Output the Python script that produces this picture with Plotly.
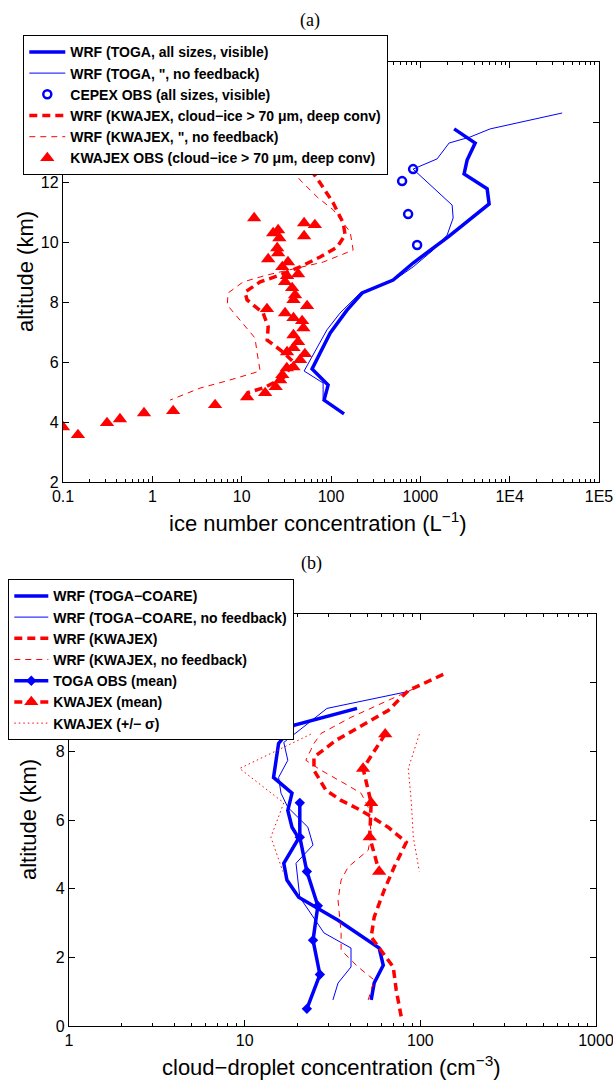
import plotly.graph_objects as go

# ---------------- Panel (a) data ----------------
toga_wrf_alt = [13.77, 13.3, 12.73, 12.27, 11.77, 11.27, 10.17, 9.3, 8.73, 8.3, 7.73, 6.97, 6.3, 5.77, 5.23, 4.73, 4.27]
toga_wrf_n = [2390, 4110, 3340, 3090, 5600, 5890, 2050, 830, 496, 223, 151, 98, 75.5, 61.4, 92.8, 83.7, 140]

toga_nofb_alt = [14.3, 13.77, 13.5, 13.3, 12.77, 12.43, 11.23, 10.8, 10.23, 9.73, 9.17, 8.8, 8.3, 7.63, 7.07, 6.5, 5.7, 5.3, 4.77, 4.3]
toga_nofb_n = [38700, 6050, 3610, 2100, 1540, 830, 2270, 2330, 1995, 1390, 830, 550, 212, 126, 90, 70, 50, 81.6, 81.6, 137]

cepex_alt = [12.43, 12.03, 10.93, 9.9]
cepex_n = [830, 625, 730, 921]

kwa_wrf_alt = [13.5, 12.67, 11.97, 11.3, 10.63, 10.23, 9.83, 9.5, 9.17, 8.9, 8.67, 8.33, 8.07, 7.63, 7.17, 6.73, 6.33, 6.0, 5.5, 5.15, 4.97]
kwa_wrf_n = [35, 51.3, 75.5, 106, 137, 144, 117, 75.5, 45, 26.9, 16.1, 10.9, 11.5, 17.4, 19.8, 19.3, 29.1, 38, 30, 18, 11.5]

kwa_nofb_alt = [13.3, 12.67, 12.07, 11.5, 11.07, 10.33, 9.73, 9.33, 9.13, 8.9, 8.67, 8.3, 7.9, 7.4, 6.8, 6.3, 5.7, 5.4, 5.13, 4.73]
kwa_nofb_n = [22, 30.6, 45, 70, 106, 164, 177, 81.6, 41.7, 19.2, 10.4, 7.04, 6.9, 9.6, 14.1, 14.9, 16.1, 7.4, 3.42, 1.58]

kwa_obs_alt = [10.8, 10.63, 10.57, 10.2, 10.3, 10.4, 10.13, 9.8, 9.63, 9.43, 9.33, 9.17, 8.93, 8.87, 8.67,
               8.47, 8.23, 8.07, 7.77, 7.87, 7.63, 7.47, 7.37, 7.13, 6.9, 6.67, 6.47, 6.27, 6.33, 6.07,
               5.83, 5.8, 5.57, 5.4, 5.17, 4.97, 4.83, 4.57, 4.37, 4.3, 4.1, 3.97, 3.57, 3.83]
kwa_obs_n = [13.8, 50, 66, 50, 22.5, 25.6, 26.4, 25, 25.6, 19.8, 33, 28.5, 42.8, 32.2, 30.6,
             36.7, 39.6, 38, 19.2, 54, 30.6, 38, 47.5, 49, 38, 42.8, 38, 51, 32.2, 45,
             38, 32, 28.5, 27, 24, 18.3, 11.5, 5.04, 1.71, 0.807, 0.434, 0.311, 0.147, 0.1]

a_xticks = [0.1, 1, 10, 100, 1000, 1e4, 1e5]
a_xticktext = ["0.1", "1", "10", "100", "1000", "1E4", "1E5"]
a_yticks = [2, 4, 6, 8, 10, 12, 14]
a_yticktext = ["2", "4", "6", "8", "10", "12", ""]   # 14 lies under the legend

# ---------------- Panel (b) data ----------------
toga_b_alt = [9.25, 8.84, 8.76, 8.23, 7.24, 6.78, 6.28, 5.79, 5.47, 4.74, 4.25, 3.75, 3.43, 3.08, 2.27, 1.77, 1.25, 0.76]
toga_b_n = [43.6, 21.7, 19.05, 15.6, 14.6, 18.6, 17.6, 18.6, 20.3, 16.7, 17.4, 20.3, 26.1, 34, 58.3, 61.5, 54.6, 52.5]

toga_nofb_b_alt = [9.75, 9.25, 8.81, 8.26, 7.74, 7.24, 6.78, 6.37, 5.79, 5.27, 4.74, 3.75, 2.71, 2.27, 1.72, 1.25, 0.76]
toga_nofb_b_n = [86.5, 29.4, 22.9, 16.7, 17.6, 15.6, 16.1, 17.6, 22.9, 24.5, 19.6, 20.6, 28.3, 40.3, 40.3, 34, 31.8]

kwa_b_alt = [10.24, 9.77, 9.19, 8.7, 8.32, 7.83, 7.45, 6.87, 6.57, 6.28, 5.79, 5.35, 4.63, 3.96, 3.17, 2.59, 2.12, 1.72, 1.05, 0.26]
kwa_b_n = [135, 85.4, 65.6, 44.2, 33.1, 24.8, 24.8, 29, 35.4, 46, 65.6, 83.2, 71, 62.3, 54.6, 52.5, 61.5, 70.1, 72.9, 77.9]

kwa_nofb_b_alt = [9.83, 9.4, 8.99, 8.52, 8.23, 7.74, 7.45, 7.07, 6.78, 6.37, 5.61, 5.12, 4.63, 4.25, 3.67, 2.71, 2.21, 1.72, 1.34, 0.76]
kwa_nofb_b_n = [92.4, 59.8, 40.3, 27.2, 24.8, 22.3, 27.2, 36.8, 46, 50.5, 52.5, 50.5, 38.8, 35.4, 34, 35.4, 35.4, 44.2, 54.6, 50.5]

toga_obs_alt = [6.5, 5.5, 4.5, 3.5, 2.5, 1.5, 0.5]
toga_obs_n = [20.6, 20.6, 22.6, 26.1, 24.5, 26.8, 22.6]

kwa_mean_alt = [8.5, 7.5, 6.5, 5.5, 4.5]
kwa_mean_n = [63.1, 47.2, 52.5, 51.5, 58.3]
kwa_lo_n = [23.8, 9.36, 16.7, 14.1, 16.5]
kwa_hi_n = [98.7, 85.4, 88.9, 91.2, 98.7]

b_xticks = [1, 10, 100, 1000]
b_xticktext = ["1", "10", "100", "1000"]
b_yticks = [0, 2, 4, 6, 8, 10]
b_yticktext = ["0", "2", "4", "6", "8", ""]   # 10 lies under the legend

BLUE = "#0000ff"
RED = "#ff0000"
W, H = 613, 1082
FONT = "Liberation Sans, Arial, Helvetica, sans-serif"


def px_x(p):
    return p / W


def px_y(p):
    return 1 - p / H


fig = go.Figure()

# ----- panel (a) traces -----
fig.add_trace(go.Scatter(x=toga_wrf_n, y=toga_wrf_alt, mode="lines",
                         line=dict(color=BLUE, width=3.5),
                         name="<b>WRF (TOGA, all sizes, visible)</b>",
                         xaxis="x", yaxis="y", legend="legend"))
fig.add_trace(go.Scatter(x=toga_nofb_n, y=toga_nofb_alt, mode="lines",
                         line=dict(color=BLUE, width=1),
                         name="<b>WRF (TOGA, \", no feedback)</b>",
                         xaxis="x", yaxis="y", legend="legend"))
fig.add_trace(go.Scatter(x=cepex_n, y=cepex_alt, mode="markers",
                         marker=dict(symbol="circle-open", size=8, color=BLUE, line=dict(width=2.5, color=BLUE)),
                         name="<b>CEPEX OBS (all sizes, visible)</b>",
                         xaxis="x", yaxis="y", legend="legend"))
fig.add_trace(go.Scatter(x=kwa_wrf_n, y=kwa_wrf_alt, mode="lines",
                         line=dict(color=RED, width=3.5, dash="8px,5px"),
                         name="<b>WRF (KWAJEX, cloud\u2212ice > 70 \u03bcm, deep conv)</b>",
                         xaxis="x", yaxis="y", legend="legend"))
fig.add_trace(go.Scatter(x=kwa_nofb_n, y=kwa_nofb_alt, mode="lines",
                         line=dict(color=RED, width=1, dash="6px,5px"),
                         name="<b>WRF (KWAJEX, \", no feedback)</b>",
                         xaxis="x", yaxis="y", legend="legend"))
fig.add_trace(go.Scatter(x=kwa_obs_n, y=kwa_obs_alt, mode="markers",
                         marker=dict(symbol="triangle-up", size=12.5, color=RED, line=dict(width=0)),
                         name="<b>KWAJEX OBS (cloud\u2212ice > 70 \u03bcm, deep conv)</b>",
                         xaxis="x", yaxis="y", legend="legend"))

# ----- panel (b) traces -----
fig.add_trace(go.Scatter(x=toga_b_n, y=toga_b_alt, mode="lines",
                         line=dict(color=BLUE, width=3.5),
                         name="<b>WRF (TOGA\u2212COARE)</b>",
                         xaxis="x2", yaxis="y2", legend="legend2"))
fig.add_trace(go.Scatter(x=toga_nofb_b_n, y=toga_nofb_b_alt, mode="lines",
                         line=dict(color=BLUE, width=1),
                         name="<b>WRF (TOGA\u2212COARE, no feedback)</b>",
                         xaxis="x2", yaxis="y2", legend="legend2"))
fig.add_trace(go.Scatter(x=kwa_b_n, y=kwa_b_alt, mode="lines",
                         line=dict(color=RED, width=3.5, dash="8px,5px"),
                         name="<b>WRF (KWAJEX)</b>",
                         xaxis="x2", yaxis="y2", legend="legend2"))
fig.add_trace(go.Scatter(x=kwa_nofb_b_n, y=kwa_nofb_b_alt, mode="lines",
                         line=dict(color=RED, width=1, dash="6px,5px"),
                         name="<b>WRF (KWAJEX, no feedback)</b>",
                         xaxis="x2", yaxis="y2", legend="legend2"))
fig.add_trace(go.Scatter(x=toga_obs_n, y=toga_obs_alt, mode="lines+markers",
                         line=dict(color=BLUE, width=3.5),
                         marker=dict(symbol="diamond", size=8, color=BLUE),
                         name="<b>TOGA OBS (mean)</b>",
                         xaxis="x2", yaxis="y2", legend="legend2"))
fig.add_trace(go.Scatter(x=kwa_mean_n, y=kwa_mean_alt, mode="lines+markers",
                         line=dict(color=RED, width=3.5, dash="8px,5px"),
                         marker=dict(symbol="triangle-up", size=12.5, color=RED),
                         name="<b>KWAJEX (mean)</b>",
                         xaxis="x2", yaxis="y2", legend="legend2"))
fig.add_trace(go.Scatter(x=kwa_lo_n, y=kwa_mean_alt, mode="lines",
                         line=dict(color=RED, width=1, dash="1.5px,3px"),
                         name="<b>KWAJEX (+/\u2212 \u03c3)</b>",
                         xaxis="x2", yaxis="y2", legend="legend2"))
fig.add_trace(go.Scatter(x=kwa_hi_n, y=kwa_mean_alt, mode="lines",
                         line=dict(color=RED, width=1, dash="1.5px,3px"),
                         name="<b>KWAJEX (+/\u2212 \u03c3)</b>", showlegend=False,
                         xaxis="x2", yaxis="y2", legend="legend2"))

axis_common = dict(showline=True, linecolor="black", linewidth=1.3, mirror="ticks",
                   ticks="inside", ticklen=6, tickcolor="black", tickwidth=1,
                   showgrid=False, zeroline=False, automargin=False,
                   ticklabeloverflow="allow",
                   tickfont=dict(family=FONT, size=16, color="black"))

minor_log = dict(ticks="inside", ticklen=3, tickcolor="black", tickwidth=1, dtick="D1", showgrid=False)

fig.update_layout(
    template="none",
    width=W, height=H,
    margin=dict(l=0, r=0, t=0, b=0, autoexpand=False),
    paper_bgcolor="white", plot_bgcolor="white",
    xaxis=dict(type="log", range=[-1, 5], domain=[px_x(63), px_x(599)], anchor="y",
               tickmode="array", tickvals=a_xticks, ticktext=a_xticktext,
               minor=minor_log, **axis_common),
    yaxis=dict(range=[2, 16], domain=[px_y(482), px_y(62)], anchor="x",
               tickmode="array", tickvals=a_yticks, ticktext=a_yticktext, **axis_common),
    xaxis2=dict(type="log", range=[0, 3], domain=[px_x(69), px_x(596)], anchor="y2",
                tickmode="array", tickvals=b_xticks, ticktext=b_xticktext,
                minor=minor_log, **axis_common),
    yaxis2=dict(range=[0, 12], domain=[px_y(1026), px_y(614)], anchor="x2",
                tickmode="array", tickvals=b_yticks, ticktext=b_yticktext, **axis_common),
    legend=dict(x=px_x(23), y=px_y(35), xanchor="left", yanchor="top",
                bgcolor="white", bordercolor="black", borderwidth=1.3,
                font=dict(family=FONT, size=14, color="black"),
                itemwidth=36, tracegroupgap=0),
    legend2=dict(x=px_x(8), y=px_y(579), xanchor="left", yanchor="top",
                 bgcolor="white", bordercolor="black", borderwidth=1.3,
                 font=dict(family=FONT, size=14, color="black"),
                 itemwidth=34, tracegroupgap=0),
    showlegend=True,
)

ann_common = dict(xref="paper", yref="paper", showarrow=False, xanchor="center", yanchor="middle")
annotations = [
    dict(text="(a)", x=px_x(310), y=px_y(20),
         font=dict(family="Liberation Serif, Times New Roman, serif", size=18, color="black"), **ann_common),
    dict(text="(b)", x=px_x(311), y=px_y(563),
         font=dict(family="Liberation Serif, Times New Roman, serif", size=18, color="black"), **ann_common),
    dict(text="ice number concentration (L<sup>\u22121</sup>)", x=px_x(318), y=px_y(522),
         font=dict(family=FONT, size=22, color="black"), **ann_common),
    dict(text="cloud\u2212droplet concentration (cm<sup>\u22123</sup>)", x=px_x(331), y=px_y(1066),
         font=dict(family=FONT, size=22, color="black"), **ann_common),
    dict(text="altitude (km)", x=px_x(25), y=px_y(272), textangle=-90,
         font=dict(family=FONT, size=22, color="black"), **ann_common),
    dict(text="altitude (km)", x=px_x(28), y=px_y(820), textangle=-90,
         font=dict(family=FONT, size=22, color="black"), **ann_common),
]
fig.update_layout(annotations=annotations)

fig.write_html("out.html")
